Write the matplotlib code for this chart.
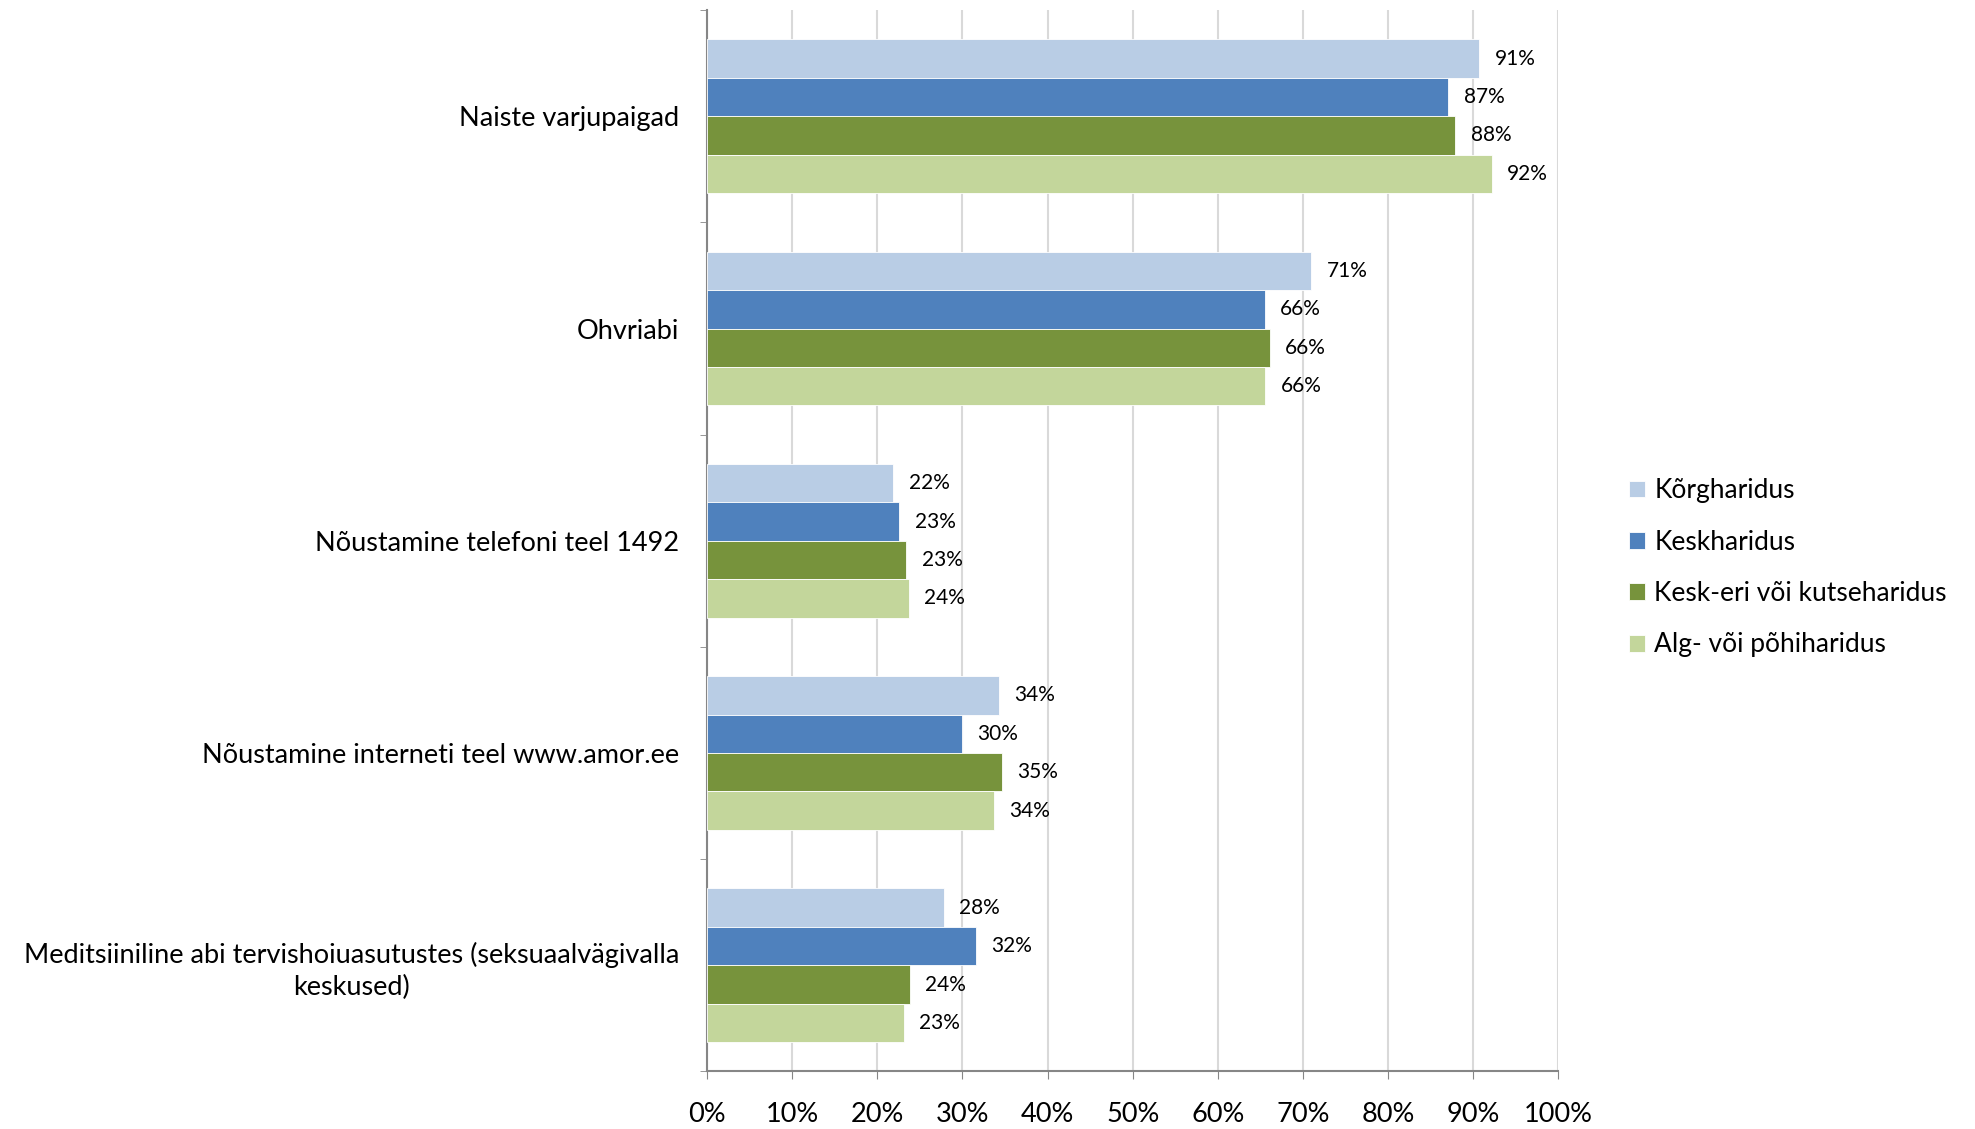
import matplotlib.pyplot as plt
import numpy as np

plt.rcParams['font.family'] = ['Lato', 'DejaVu Sans']

# Kategooriad (ülevalt alla)
categories = [
    'Naiste varjupaigad',
    'Ohvriabi',
    'Nõustamine telefoni teel 1492',
    'Nõustamine interneti teel www.amor.ee',
    'Meditsiiniline abi tervishoiuasutustes (seksuaalvägivalla\nkeskused)',
]
series_names = ['Kõrgharidus', 'Keskharidus', 'Kesk-eri või kutseharidus', 'Alg- või põhiharidus']
colors = ['#B9CDE5', '#4F81BD', '#77933C', '#C3D69B']

# Väärtused (%), iga rida = üks haridustase, veerud = kategooriad
korg = [90.7, 71.0, 21.9, 34.3, 27.8]
kesk = [87.1, 65.5, 22.6, 29.9, 31.6]
kesk_eri = [87.9, 66.1, 23.4, 34.6, 23.8]
alg = [92.2, 65.6, 23.7, 33.7, 23.1]
values = [korg, kesk, kesk_eri, alg]

x_ticks = [0, 10, 20, 30, 40, 50, 60, 70, 80, 90, 100]

fig = plt.figure(figsize=(19.75, 11.29), dpi=100)
ax = fig.add_axes([0.358, 0.051, 0.431, 0.940])

y = np.arange(len(categories))
h = 0.181
for j, (name, vals, c) in enumerate(zip(series_names, values, colors)):
    pos = y + (j - 1.5) * h
    ax.barh(pos, vals, height=h, color=c, edgecolor='white', linewidth=0.6,
            label=name, zorder=3)
    for p, v in zip(pos, vals):
        ax.annotate(f'{round(v + 1e-9):d}%', (v, p), xytext=(11, 0), textcoords='offset points',
                    ha='left', va='center', fontsize=15, color='black')

ax.set_xlim(0, 100)
ax.set_ylim(len(categories) - 0.5, -0.5)
ax.set_xticks(x_ticks)
ax.set_xticklabels([f'{t}%' for t in x_ticks], fontsize=19.5)
ax.tick_params(axis='x', direction='out', length=6, color='#868686', pad=16)

ax.set_yticks(y)
ax.set_yticklabels(categories, fontsize=19.5, multialignment='center', linespacing=1.35)
ax.tick_params(axis='y', which='major', length=0, pad=20)
ax.set_yticks(np.arange(len(categories) + 1) - 0.5, minor=True)
ax.tick_params(axis='y', which='minor', direction='out', length=5, color='#868686')

ax.grid(axis='x', color='#D9D9D9', linewidth=1.5, zorder=0)
for s in ['top', 'right']:
    ax.spines[s].set_visible(False)
for s in ['left', 'bottom']:
    ax.spines[s].set_color('#868686')
    ax.spines[s].set_linewidth(1.5)

fig.legend(loc='center left', bbox_to_anchor=(0.813, 0.497), frameon=False,
           fontsize=19, handlelength=0.6, handleheight=0.6, handletextpad=0.35,
           labelspacing=1.0)

plt.savefig('out.png', dpi=100)
